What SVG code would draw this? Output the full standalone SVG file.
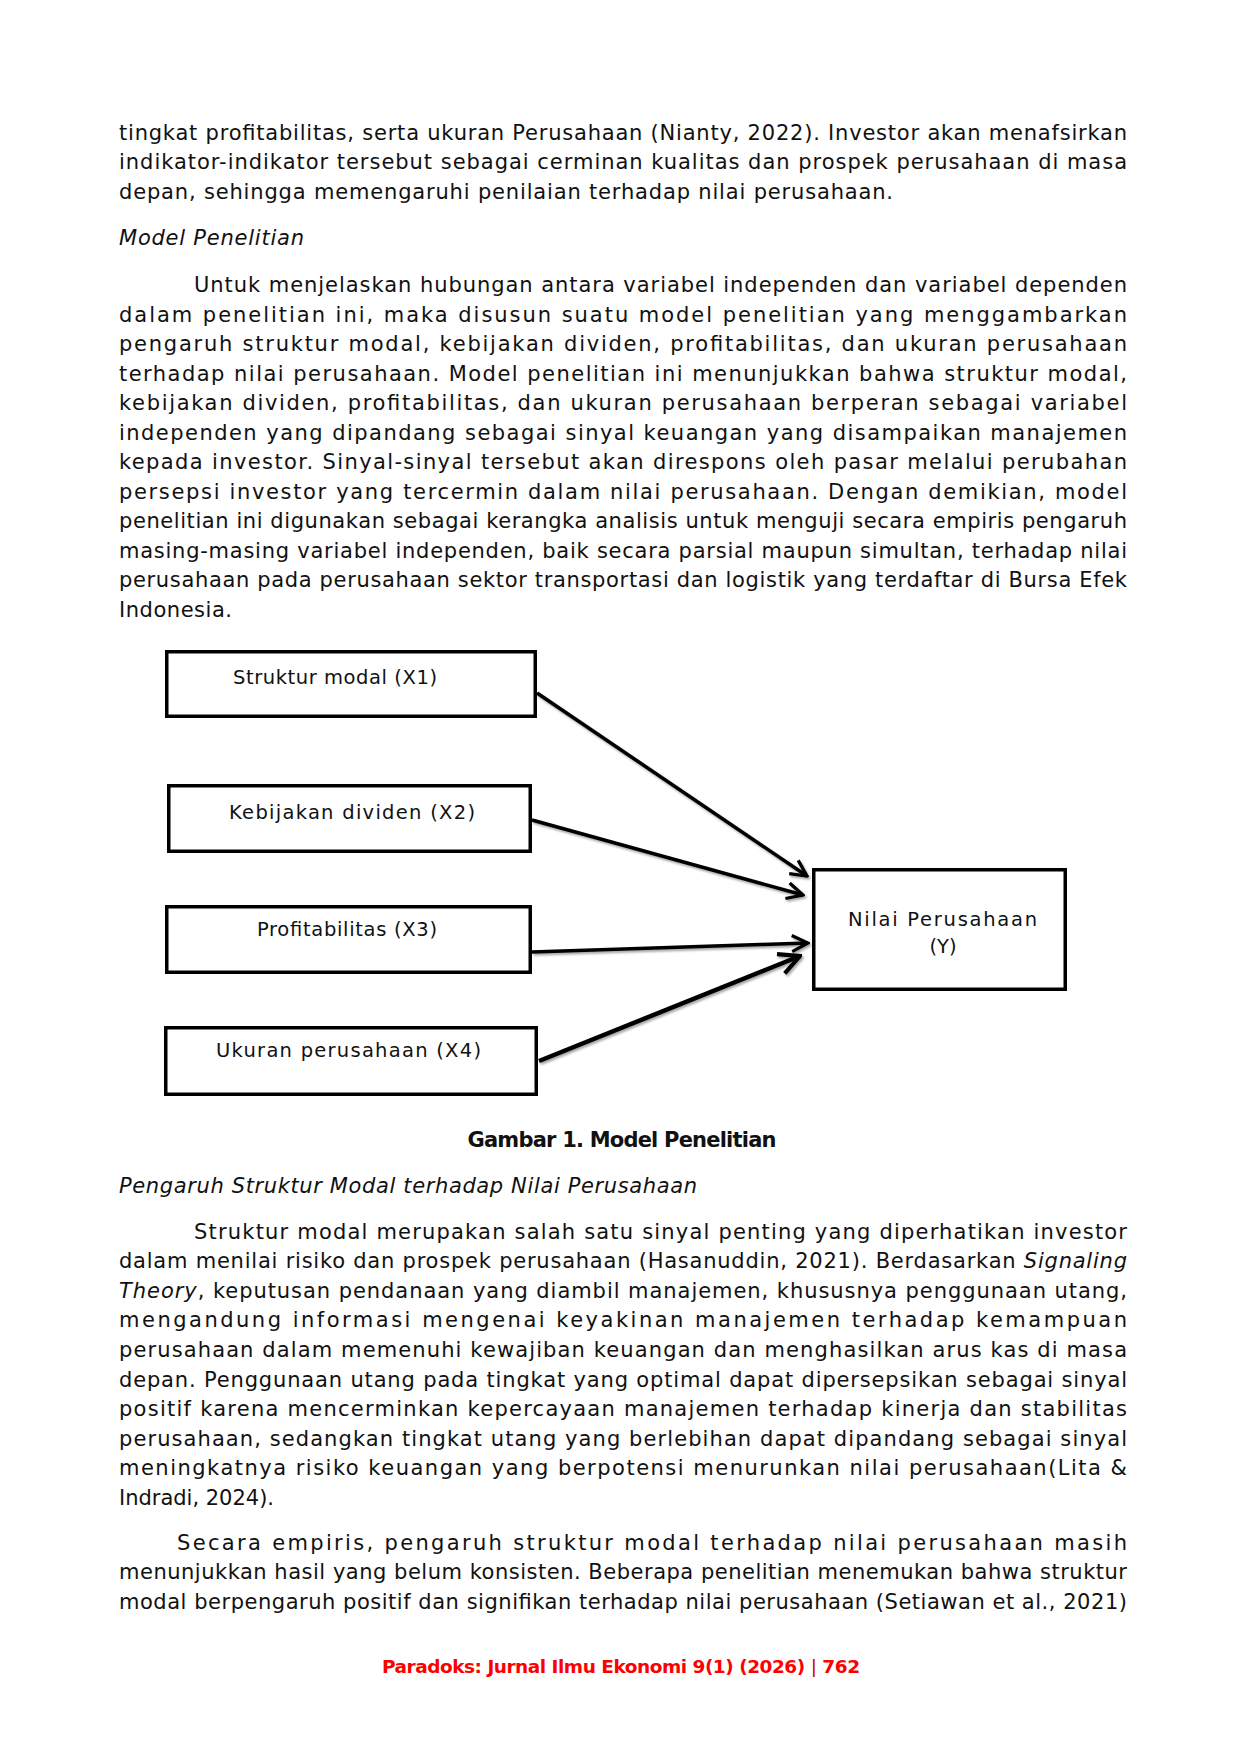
<svg xmlns="http://www.w3.org/2000/svg" width="1240" height="1754" viewBox="0 0 1240 1754">
<defs>
<style>
.b{font-family:"DejaVu Sans","Liberation Sans",sans-serif;font-size:21px;fill:#111}
.i{font-style:italic}
.cap{font-family:"DejaVu Sans","Liberation Sans",sans-serif;font-size:21px;font-weight:bold;fill:#111}
.ft{font-family:"DejaVu Sans","Liberation Sans",sans-serif;font-size:18.5px;font-weight:bold;fill:#f00}
.nt{font-family:"DejaVu Sans","Liberation Sans",sans-serif;font-size:19.5px;fill:#111}
.box{fill:#fff;stroke:#000;stroke-width:3.5}
.con{fill:none;stroke:#000;stroke-width:3.5;marker-end:url(#ah)}
</style>
<marker id="ah" viewBox="0 0 12 12" refX="11" refY="6" markerWidth="5.5" markerHeight="5.5" orient="auto" markerUnits="strokeWidth">
<path d="M1,1 L11,6 L1,11" fill="none" stroke="#000" stroke-width="2"/>
</marker>
<filter id="sh" x="-10%" y="-10%" width="120%" height="130%">
<feDropShadow dx="1.5" dy="2" stdDeviation="1.2" flood-color="#000" flood-opacity="0.35"/>
</filter>
</defs>
<rect width="1240" height="1754" fill="#fff"/>

<g id="body-top">
<text class="b" x="119" y="139.5" textLength="1008" lengthAdjust="spacing">tingkat profitabilitas, serta ukuran Perusahaan (Nianty, 2022). Investor akan menafsirkan</text>
<text class="b" x="119" y="169" textLength="1008" lengthAdjust="spacing">indikator-indikator tersebut sebagai cerminan kualitas dan prospek perusahaan di masa</text>
<text class="b" x="119" y="198.5" textLength="774" lengthAdjust="spacing">depan, sehingga memengaruhi penilaian terhadap nilai perusahaan.</text>
<text class="b i" x="119" y="245" textLength="185" lengthAdjust="spacing">Model Penelitian</text>
<text class="b" x="194" y="292" textLength="933" lengthAdjust="spacing">Untuk menjelaskan hubungan antara variabel independen dan variabel dependen</text>
<text class="b" x="119" y="321.5" textLength="1008" lengthAdjust="spacing">dalam penelitian ini, maka disusun suatu model penelitian yang menggambarkan</text>
<text class="b" x="119" y="351" textLength="1008" lengthAdjust="spacing">pengaruh struktur modal, kebijakan dividen, profitabilitas, dan ukuran perusahaan</text>
<text class="b" x="119" y="380.5" textLength="1008" lengthAdjust="spacing">terhadap nilai perusahaan. Model penelitian ini menunjukkan bahwa struktur modal,</text>
<text class="b" x="119" y="410" textLength="1008" lengthAdjust="spacing">kebijakan dividen, profitabilitas, dan ukuran perusahaan berperan sebagai variabel</text>
<text class="b" x="119" y="439.5" textLength="1008" lengthAdjust="spacing">independen yang dipandang sebagai sinyal keuangan yang disampaikan manajemen</text>
<text class="b" x="119" y="469" textLength="1008" lengthAdjust="spacing">kepada investor. Sinyal-sinyal tersebut akan direspons oleh pasar melalui perubahan</text>
<text class="b" x="119" y="498.5" textLength="1008" lengthAdjust="spacing">persepsi investor yang tercermin dalam nilai perusahaan. Dengan demikian, model</text>
<text class="b" x="119" y="528" textLength="1008" lengthAdjust="spacing">penelitian ini digunakan sebagai kerangka analisis untuk menguji secara empiris pengaruh</text>
<text class="b" x="119" y="557.5" textLength="1008" lengthAdjust="spacing">masing-masing variabel independen, baik secara parsial maupun simultan, terhadap nilai</text>
<text class="b" x="119" y="587" textLength="1008" lengthAdjust="spacing">perusahaan pada perusahaan sektor transportasi dan logistik yang terdaftar di Bursa Efek</text>
<text class="b" x="119" y="616.5" textLength="113" lengthAdjust="spacing">Indonesia.</text>
</g>

<g id="connectors" filter="url(#sh)">
<line class="con" x1="537" y1="693" x2="807" y2="876"/>
<line class="con" x1="532" y1="820" x2="803" y2="895"/>
<line class="con" x1="532" y1="952" x2="808" y2="943"/>
<line class="con" x1="539" y1="1061" x2="800" y2="956" style="stroke-width:4.5"/>
</g>

<g id="node-x1">
<rect class="box" x="166.75" y="651.75" width="368.5" height="64.5"/>
<text class="nt" x="233" y="684" textLength="204" lengthAdjust="spacing">Struktur modal (X1)</text>
</g>
<g id="node-x2">
<rect class="box" x="168.75" y="785.75" width="361.5" height="65.5"/>
<text class="nt" x="229" y="819" textLength="246" lengthAdjust="spacing">Kebijakan dividen (X2)</text>
</g>
<g id="node-x3">
<rect class="box" x="166.75" y="906.75" width="363.5" height="65.5"/>
<text class="nt" x="257" y="936" textLength="180" lengthAdjust="spacing">Profitabilitas (X3)</text>
</g>
<g id="node-x4">
<rect class="box" x="165.75" y="1027.75" width="370.5" height="66.5"/>
<text class="nt" x="216" y="1057" textLength="265" lengthAdjust="spacing">Ukuran perusahaan (X4)</text>
</g>
<g id="node-y">
<rect class="box" x="813.75" y="869.75" width="251.5" height="119.5"/>
<text class="nt" x="848" y="926" textLength="189" lengthAdjust="spacing">Nilai Perusahaan</text>
<text class="nt" x="943" y="953" text-anchor="middle">(Y)</text>
</g>

<g id="caption">
<text class="cap" x="622" y="1146.6" text-anchor="middle" textLength="309" lengthAdjust="spacing">Gambar 1. Model Penelitian</text>
</g>

<g id="body-bottom">
<text class="b i" x="119" y="1192.6" textLength="578" lengthAdjust="spacing">Pengaruh Struktur Modal terhadap Nilai Perusahaan</text>
<text class="b" x="194" y="1238.6" textLength="933" lengthAdjust="spacing">Struktur modal merupakan salah satu sinyal penting yang diperhatikan investor</text>
<text class="b" x="119" y="1268.2" textLength="1008" lengthAdjust="spacing">dalam menilai risiko dan prospek perusahaan (Hasanuddin, 2021). Berdasarkan <tspan class="i">Signaling</tspan></text>
<text class="b" x="119" y="1297.8" textLength="1008" lengthAdjust="spacing"><tspan class="i">Theory</tspan>, keputusan pendanaan yang diambil manajemen, khususnya penggunaan utang,</text>
<text class="b" x="119" y="1327.4" textLength="1008" lengthAdjust="spacing">mengandung informasi mengenai keyakinan manajemen terhadap kemampuan</text>
<text class="b" x="119" y="1357" textLength="1008" lengthAdjust="spacing">perusahaan dalam memenuhi kewajiban keuangan dan menghasilkan arus kas di masa</text>
<text class="b" x="119" y="1386.6" textLength="1008" lengthAdjust="spacing">depan. Penggunaan utang pada tingkat yang optimal dapat dipersepsikan sebagai sinyal</text>
<text class="b" x="119" y="1416.2" textLength="1008" lengthAdjust="spacing">positif karena mencerminkan kepercayaan manajemen terhadap kinerja dan stabilitas</text>
<text class="b" x="119" y="1445.8" textLength="1008" lengthAdjust="spacing">perusahaan, sedangkan tingkat utang yang berlebihan dapat dipandang sebagai sinyal</text>
<text class="b" x="119" y="1475.4" textLength="1008" lengthAdjust="spacing">meningkatnya risiko keuangan yang berpotensi menurunkan nilai perusahaan(Lita &amp;</text>
<text class="b" x="119" y="1505" textLength="155" lengthAdjust="spacing">Indradi, 2024).</text>
<text class="b" x="177" y="1550" textLength="950" lengthAdjust="spacing">Secara empiris, pengaruh struktur modal terhadap nilai perusahaan masih</text>
<text class="b" x="119" y="1579.4" textLength="1008" lengthAdjust="spacing">menunjukkan hasil yang belum konsisten. Beberapa penelitian menemukan bahwa struktur</text>
<text class="b" x="119" y="1609.4" textLength="1008" lengthAdjust="spacing">modal berpengaruh positif dan signifikan terhadap nilai perusahaan (Setiawan et al., 2021)</text>
</g>

<g id="footer">
<text class="ft" x="382" y="1673.3" textLength="478" lengthAdjust="spacing">Paradoks: Jurnal Ilmu Ekonomi 9(1) (2026) <tspan font-weight="normal" fill="#c00">|</tspan> 762</text>
</g>
</svg>
